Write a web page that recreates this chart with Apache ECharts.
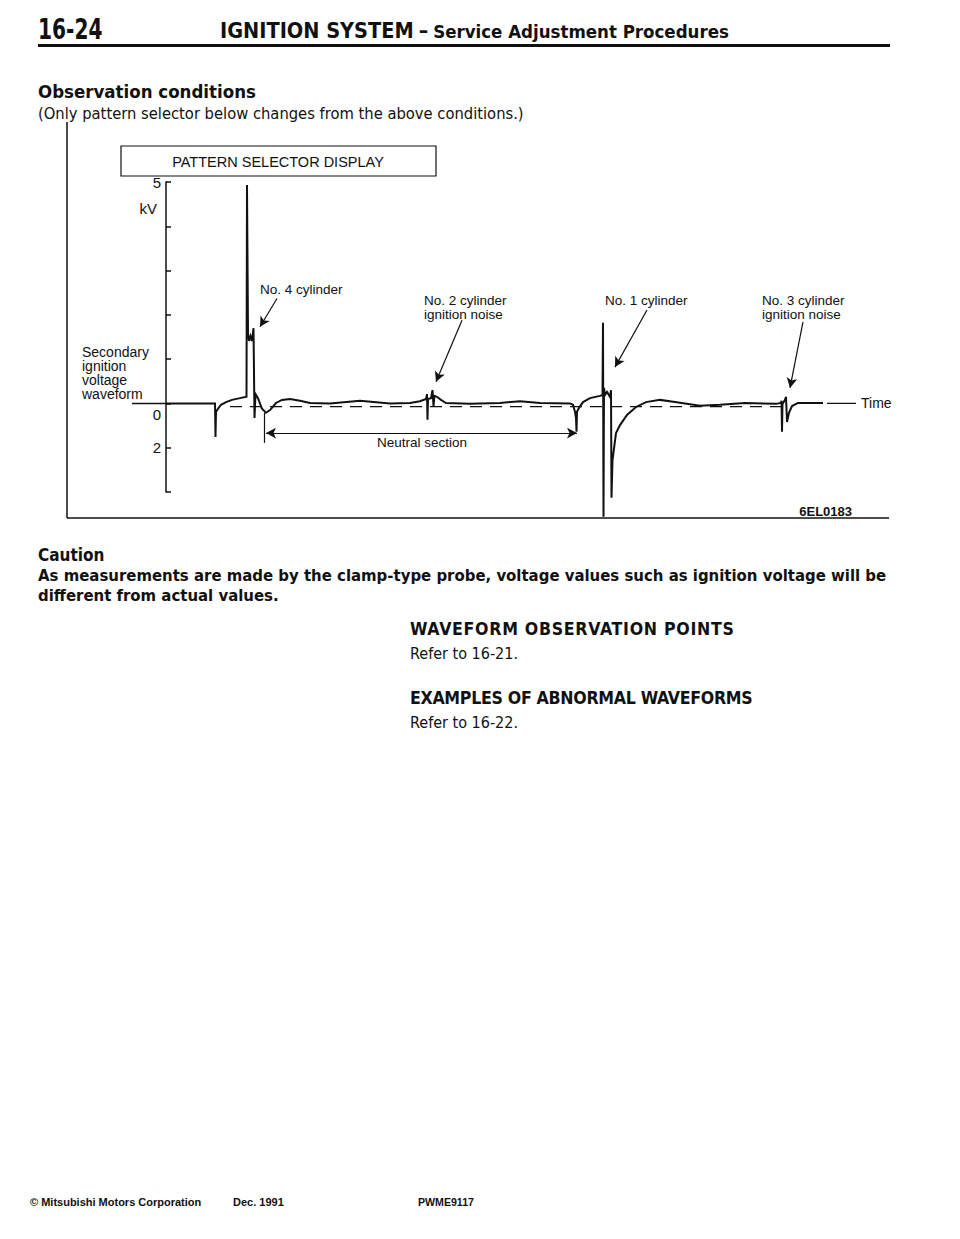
<!DOCTYPE html>
<html lang="en">
<head>
<meta charset="UTF-8">
<title>16-24 IGNITION SYSTEM - Service Adjustment Procedures</title>
<script src="https://cdn.jsdelivr.net/npm/echarts/dist/echarts.min.js"></script>
<style>
body{margin:0;background:#fff;}
#page{position:relative;width:960px;height:1239px;overflow:hidden;color:#111;font-family:"Liberation Sans",Arial,sans-serif;}
#main{position:absolute;left:0;top:0;width:960px;height:1239px;}
.t{position:absolute;white-space:nowrap;z-index:2;}
.n{font-family:"Liberation Sans Narrow","DejaVu Sans Condensed","Liberation Sans",sans-serif;}
.b{font-weight:bold;}
#rule{position:absolute;left:38px;top:44px;width:852px;height:3px;background:#111;}
</style>
</head>
<body>
<div id="page">
<div id="main"></div>
<div class="t n b" style="left:38px;top:13px;font-size:28px;transform:scaleX(0.8);transform-origin:left center;">16-24</div>
<div class="t n b" style="left:220px;top:18px;"><span style="font-size:21.5px;">IGNITION SYSTEM</span> <span style="font-size:21px;">–</span> <span style="font-size:18.5px;">Service Adjustment Procedures</span></div>
<div id="rule"></div>
<div class="t n b" style="left:38px;top:81px;font-size:18.5px;">Observation conditions</div>
<div class="t n" style="left:38px;top:104px;font-size:16.4px;">(Only pattern selector below changes from the above conditions.)</div>

<div class="t n b" style="left:38px;top:545px;font-size:17px;">Caution</div>
<div class="t n b" style="left:38px;top:566px;font-size:16.6px;">As measurements are made by the clamp-type probe, voltage values such as ignition voltage will be</div>
<div class="t n b" style="left:38px;top:586px;font-size:16.6px;">different from actual values.</div>

<div class="t n b" style="left:410px;top:619px;font-size:17.6px;letter-spacing:0.7px;">WAVEFORM OBSERVATION POINTS</div>
<div class="t n" style="left:410px;top:644px;font-size:16px;">Refer to 16-21.</div>
<div class="t n b" style="left:410px;top:688px;font-size:17.6px;letter-spacing:-0.3px;">EXAMPLES OF ABNORMAL WAVEFORMS</div>
<div class="t n" style="left:410px;top:713px;font-size:16px;">Refer to 16-22.</div>

<div class="t b" style="left:30px;top:1196px;font-size:11px;">© Mitsubishi Motors Corporation</div>
<div class="t b" style="left:233px;top:1196px;font-size:11px;">Dec. 1991</div>
<div class="t b" style="left:418px;top:1196px;font-size:10.6px;">PWME9117</div>
</div>
<script type="text/javascript">
// secondary ignition trace, time in arbitrary units (10 px each), voltage in kV display units
var traceTime = [0, 4.9, 4.95, 5.0, 5.2, 5.5, 6.0, 6.6, 7.4, 8.05, 8.1, 8.2, 8.3, 8.45, 8.6, 8.75, 8.85, 8.95,
    9.2, 9.6, 10.0, 10.4, 11.0, 11.6, 12.4, 13.4, 14.4, 16.4, 19.4, 22.4, 24.4, 25.4, 26.0, 26.1, 26.15, 26.2,
    26.5, 26.65, 26.75, 26.85, 27.1, 27.5, 28.0, 30.4, 33.4, 35.4, 37.4, 40.4, 40.7, 40.9, 41.0, 41.05, 41.1,
    41.3, 41.7, 42.4, 43.4, 43.65, 43.7, 43.75, 43.8, 43.9, 44.1, 44.4, 44.5, 44.55, 44.65, 45.0, 45.4, 46.1,
    47.0, 48.0, 49.4, 50.9, 53.4, 55.4, 57.9, 61.0, 61.5, 61.55, 61.6, 61.65, 61.9, 62.0, 62.1, 62.3, 62.6,
    63.2, 65.7];
var traceKv = [0, 0, -0.76, -0.19, -0.12, -0.03, 0.03, 0.08, 0.12, 0.15, 4.93, 1.59, 1.41, 1.52, 1.41, 1.70, -0.33, 0.21,
    0.12, -0.12, -0.21, -0.15, 0.01, 0.08, 0.10, 0.06, 0.01, 0, 0.06, 0, 0.01, 0.05, 0.10, 0.21, -0.37, 0.10,
    0.12, 0.30, -0.06, 0.17, 0.15, 0.08, 0.01, -0.01, 0.01, 0.05, 0.01, 0, -0.03, -0.19, -0.33, -0.64, -0.19,
    -0.10, 0.03, 0.12, 0.17, 0.19, 1.82, -2.56, 0.35, 0.19, 0.26, 0.15, 0.30, -2.13, -1.28, -0.67, -0.49, -0.26,
    -0.08, 0.03, 0.08, 0.03, -0.05, -0.03, 0.01, -0.01, 0.01, 0.06, -0.64, -0.01, 0.08, 0.15, -0.42, -0.21, -0.06,
    0.01, 0.01];

// dashed zero reference, axis stub left of the kV scale and the "Time" line
var refTime = [6.4, 62.0];
var refKv = [-0.07, -0.07];
var stubTime = [-3.4, 0];
var timeLineTime = [66.1, 69.0];

// y tick labels (below zero the scale reads 2 at the first tick)
var yTickValues = [5, 0, -1];
var yTickText = ['5', '0', '2'];

// callout arrows [time, kV] from label to trace
var calloutNames = ['No. 4 cylinder', 'No. 2 cylinder', 'No. 1 cylinder', 'No. 3 cylinder'];
var calloutFrom = [[11.1, 2.37], [29.6, 1.88], [48.1, 2.11], [63.7, 1.84]];
var calloutTo = [[9.4, 1.73], [27.0, 0.49], [44.9, 0.82], [62.4, 0.35]];
var neutralFrom = [10.0, -0.67];
var neutralTo = [41.1, -0.67];
var neutralTick = [[9.8, -0.21], [9.8, -0.89]];

function pairs(xs, ys) {
    var out = [];
    for (var i = 0; i < xs.length; i++) {
        out.push([xs[i], ys[i]]);
    }
    return out;
}

var ink = '#111';
var labelFont = '13.5px "Liberation Sans", Arial, sans-serif';

var arrowLines = [];
for (var i = 0; i < calloutFrom.length; i++) {
    arrowLines.push([{coord: calloutFrom[i], symbol: 'none'}, {coord: calloutTo[i], symbol: 'arrow'}]);
}
arrowLines.push([{coord: neutralFrom, symbol: 'arrow'}, {coord: neutralTo, symbol: 'arrow'}]);
arrowLines.push([{coord: neutralTick[0], symbol: 'none'}, {coord: neutralTick[1], symbol: 'none'}]);

var myChart = echarts.init(document.getElementById('main'), null, {renderer: 'svg'});
var option = {
    animation: false,
    backgroundColor: '#fff',
    // grid starts at the stub; the kV axis sits at time 0 (34 px right of the grid edge)
    grid: {left: 132, right: 104, top: 182, bottom: 747},
    xAxis: {
        type: 'value', min: -3.4, max: 69,
        axisLine: {show: false}, axisTick: {show: false}, axisLabel: {show: false}, splitLine: {show: false}
    },
    yAxis: {
        type: 'value', min: -2, max: 5, interval: 1, offset: -34,
        axisLine: {show: true, onZero: false, lineStyle: {color: ink, width: 1.5}},
        axisTick: {show: true, inside: true, length: 5, lineStyle: {color: ink, width: 1.5}},
        splitLine: {show: false},
        axisLabel: {
            margin: 5, color: ink, fontSize: 15, fontFamily: 'Liberation Sans',
            formatter: function (v) {
                var k = yTickValues.indexOf(v);
                if (k < 0) return '';
                return v === 0 ? '{z|' + yTickText[k] + '}' : yTickText[k];
            },
            rich: {z: {fontSize: 15, color: ink, fontFamily: 'Liberation Sans', padding: [22, 0, 0, 0]}}
        },
        name: 'kV', nameLocation: 'end', nameGap: -34,
        nameTextStyle: {color: ink, fontSize: 15, fontFamily: 'Liberation Sans', align: 'right', padding: [0, 9, 0, 0]}
    },
    series: [
        {
            name: 'reference', type: 'line', silent: true, showSymbol: false,
            data: pairs(refTime, refKv),
            lineStyle: {color: ink, width: 1.3, type: [12, 8]}, z: 2
        },
        {
            name: 'stub', type: 'line', silent: true, showSymbol: false,
            data: pairs(stubTime, [0, 0]),
            lineStyle: {color: ink, width: 1.5}, z: 2
        },
        {
            name: 'time', type: 'line', silent: true, showSymbol: false,
            data: pairs(timeLineTime, [0, 0]),
            lineStyle: {color: ink, width: 1.3}, z: 2,
            endLabel: {show: true, formatter: 'Time', distance: 5, color: ink, fontSize: 14, fontFamily: 'Liberation Sans'}
        },
        {
            name: 'Secondary ignition voltage waveform', type: 'line', silent: true, showSymbol: false, clip: false,
            data: pairs(traceTime, traceKv),
            lineStyle: {color: ink, width: 2, join: 'miter'}, z: 3
        },
        {
            name: 'callouts', type: 'line', silent: true, data: [],
            markLine: {
                silent: true, animation: false, symbolSize: [8, 10],
                label: {show: false},
                lineStyle: {color: ink, width: 1.2, type: 'solid'},
                data: arrowLines
            }
        }
    ],
    graphic: [
        {type: 'line', shape: {x1: 67, y1: 122, x2: 67, y2: 518}, style: {stroke: ink, lineWidth: 1.5}},
        {type: 'line', shape: {x1: 67, y1: 518, x2: 889, y2: 518}, style: {stroke: ink, lineWidth: 1.5}},
        {type: 'rect', shape: {x: 121, y: 146, width: 315, height: 30}, style: {fill: '#fff', stroke: ink, lineWidth: 1.2}},
        {type: 'text', x: 278, y: 162, style: {text: 'PATTERN SELECTOR DISPLAY', font: '14.5px "Liberation Sans", Arial, sans-serif', fill: ink, align: 'center', verticalAlign: 'middle'}},
        {type: 'text', x: 82, y: 345, style: {text: 'Secondary\nignition\nvoltage\nwaveform', font: '14px "Liberation Sans", Arial, sans-serif', lineHeight: 14, fill: ink, align: 'left', verticalAlign: 'top'}},
        {type: 'text', x: 260, y: 289, style: {text: calloutNames[0], font: labelFont, fill: ink, verticalAlign: 'middle'}},
        {type: 'text', x: 424, y: 307, style: {text: calloutNames[1] + '\nignition noise', font: labelFont, lineHeight: 14, fill: ink, verticalAlign: 'middle'}},
        {type: 'text', x: 605, y: 300, style: {text: calloutNames[2], font: labelFont, fill: ink, verticalAlign: 'middle'}},
        {type: 'text', x: 762, y: 307, style: {text: calloutNames[3] + '\nignition noise', font: labelFont, lineHeight: 14, fill: ink, verticalAlign: 'middle'}},
        {type: 'text', x: 422, y: 442, style: {text: 'Neutral section', font: labelFont, fill: ink, align: 'center', verticalAlign: 'middle'}},
        {type: 'text', x: 852, y: 511, style: {text: '6EL0183', font: 'bold 13px "Liberation Sans", Arial, sans-serif', fill: ink, align: 'right', verticalAlign: 'middle'}}
    ]
};
myChart.setOption(option);
</script>
</body>
</html>
